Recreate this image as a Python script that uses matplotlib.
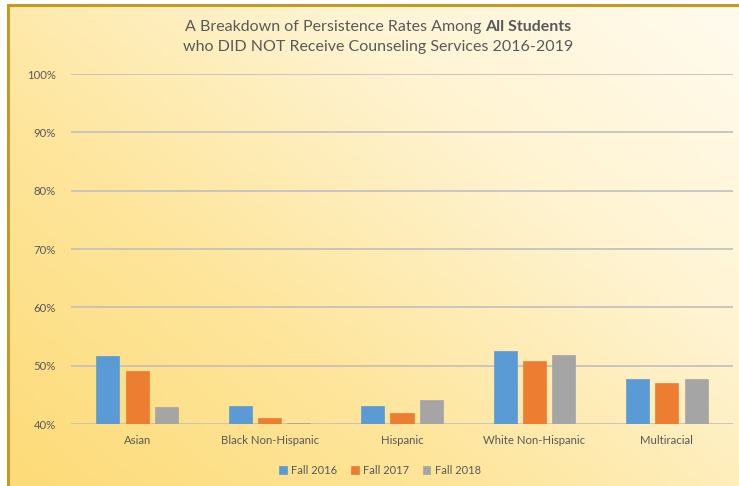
import numpy as np
import matplotlib
matplotlib.use("Agg")
import matplotlib.pyplot as plt
from matplotlib.colors import LinearSegmentedColormap

categories = ["Asian", "Black Non-Hispanic", "Hispanic", "White Non-Hispanic", "Multiracial"]
series_names = ["Fall 2016", "Fall 2017", "Fall 2018"]
fall_2016 = [51.7, 43.1, 43.1, 52.5, 47.8]
fall_2017 = [49.1, 41.0, 41.9, 50.8, 47.1]
fall_2018 = [42.9, 40.2, 44.2, 51.9, 47.8]
yticks = [40, 50, 60, 70, 80, 90, 100]
colors = ["#5B9BD5", "#ED7D31", "#A5A5A5"]

plt.rcParams['font.family'] = ['Lato', 'DejaVu Sans']

W, H = 739, 486
fig = plt.figure(figsize=(W / 100, H / 100), dpi=100)
fig.patch.set_facecolor("white")

# background gradient
bg = fig.add_axes([8 / W, 0, 1 - 8 / W, 1 - 5 / H])
nx, ny = 200, 140
xx, yy = np.meshgrid(np.linspace(0, 1, nx), np.linspace(0, 1, ny))
t = np.clip(0.55 * xx + 0.45 * yy, 0, 1)
cmap = LinearSegmentedColormap.from_list("bg", ["#FDDB78", "#FEE59A", "#FFF3CF", "#FFFBEF"])
bg.imshow(t, cmap=cmap, origin="lower", aspect="auto", extent=[0, 1, 0, 1], vmin=0, vmax=1)
bg.set_xlim(0, 1)
bg.set_ylim(0, 1)
bg.axis("off")
fig.add_artist(plt.Line2D([8 / W, 1], [1 - 5 / H, 1 - 5 / H], color="#C39A22", lw=2.2))
fig.add_artist(plt.Line2D([8 / W, 8 / W], [0, 1 - 5 / H], color="#C39A22", lw=2.2))

left, right = 71, 733
top, bottom = 74, 424
ax = fig.add_axes([left / W, 1 - bottom / H, (right - left) / W, (bottom - top) / H])
ax.patch.set_alpha(0)

x = np.arange(len(categories))
bw = 0.174
pitch = 0.221
for i, (vals, c, name) in enumerate(zip([fall_2016, fall_2017, fall_2018], colors, series_names)):
    ax.bar(x + (i - 1) * pitch, np.array(vals) - 40, bottom=40, width=bw, color=c,
           label=name, zorder=3, edgecolor=c, linewidth=0.5)

ax.set_xlim(-0.5, len(categories) - 0.5)
ax.set_ylim(40, 100)
ax.set_yticks(yticks)
ax.set_yticklabels([f"{v}%" for v in yticks])
ax.yaxis.grid(True, color="#BFBFBF", lw=1.2, zorder=0)
ax.set_xticks(x)
ax.set_xticklabels(categories)
for s in ax.spines.values():
    s.set_visible(False)
ax.tick_params(axis="both", length=0, colors="#595959", labelsize=8.2)
ax.tick_params(axis="y", pad=11)
ax.tick_params(axis="x", pad=8)
ax.set_axisbelow(True)

# title: line 1 with bold part
fs = 11.5
tcol = "#595959"
fig.canvas.draw()
r = fig.canvas.get_renderer()
t1 = fig.text(0, 1 - 27 / H, "A Breakdown of Persistence Rates Among ", ha="left", va="center",
              fontsize=fs, color=tcol)
t2 = fig.text(0, 1 - 27 / H, "All Students", ha="left", va="center", fontsize=fs,
              color=tcol, fontweight="bold")
w1 = t1.get_window_extent(r).width
w2 = t2.get_window_extent(r).width
x0 = 378 - (w1 + w2) / 2
t1.set_x(x0 / W)
t2.set_x((x0 + w1) / W)
fig.text(378 / W, 1 - 47 / H, "who DID NOT Receive Counseling Services 2016-2019",
         ha="center", va="center", fontsize=fs, color=tcol)

fig.legend(loc="center", bbox_to_anchor=(380 / W, 1 - 470 / H), ncol=3, frameon=False,
           fontsize=8, handlelength=0.7, handleheight=0.7, handletextpad=0.4,
           columnspacing=1.2, labelcolor="#595959")

fig.savefig("out.png", dpi=100)
